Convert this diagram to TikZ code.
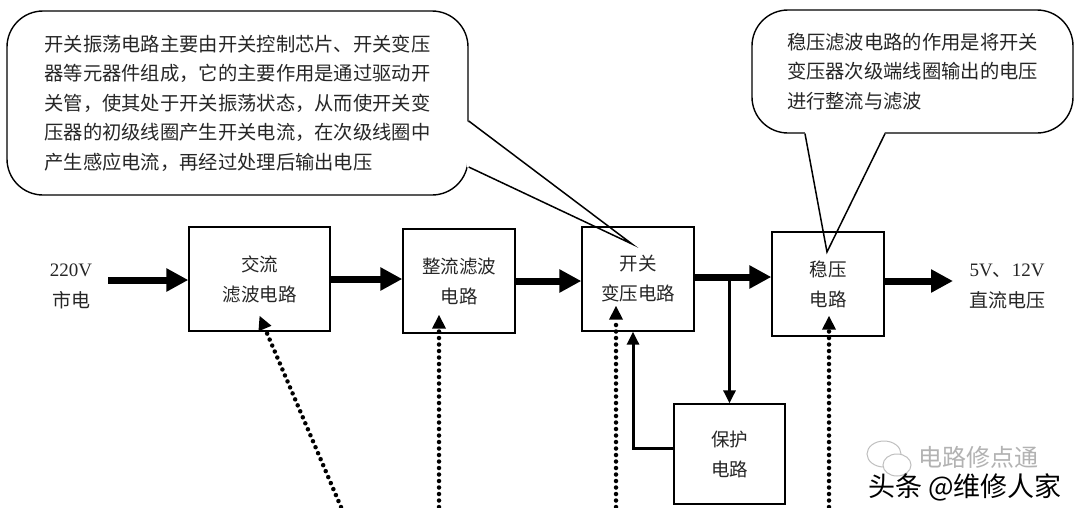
\documentclass[tikz,border=0pt]{standalone}
\usepackage{fontspec}
\setmainfont{Liberation Serif}
\newfontfamily\cjk{Noto Sans CJK SC}
\usepackage{tikz}
\usetikzlibrary{arrows.meta}

\begin{document}
\begin{tikzpicture}[x=1pt,y=-1pt,
  blk/.style={draw,line width=1.3pt,minimum width=112pt,minimum height=104pt,align=center,
    font=\cjk\fontsize{18.5pt}{30pt}\selectfont,text=black!85},
  bubble/.style={draw,line width=1.4pt,rounded corners=36pt,fill=white,align=left,
    font=\cjk\fontsize{19.3pt}{29.5pt}\selectfont,text=black!85},
  lbl/.style={align=center,font=\fontsize{19pt}{31pt}\selectfont,text=black!85},
  bigarrow/.style={line width=7pt,-{Triangle[length=22pt,width=22pt]}},
  thinarrow/.style={line width=3pt,-{Triangle[length=13pt,width=12pt]}},
  dotarrow/.style={line width=4.5pt,line cap=round,dash pattern=on 0pt off 6.5pt,
    -{Triangle[length=14pt,width=13pt]}}]
\useasboundingbox (0,0) rectangle (1080,507);
\fill[white] (0,0) rectangle (1080,507);

% callouts
\node[bubble,minimum width=461pt,minimum height=184pt] (note1) at (237.5,103)
  {开关振荡电路主要由开关控制芯片、开关变压\\
   器等元器件组成，它的主要作用是通过驱动开\\
   关管，使其处于开关振荡状态，从而使开关变\\
   压器的初级线圈产生开关电流，在次级线圈中\\
   产生感应电流，再经过处理后输出电压};
\coordinate (tip1) at (632,244);
\fill[white] ([xshift=-2pt,yshift=-18pt]note1.east) -- (tip1) -- ([xshift=-2pt,yshift=-64pt]note1.east) -- cycle;
\draw[line width=1.5pt] ([yshift=-18pt]note1.east) -- (tip1) -- ([yshift=-64pt]note1.east);

\node[bubble,minimum width=321pt,minimum height=123pt] (note2) at (912.5,71.5)
  {稳压滤波电路的作用是将开关\\
   变压器次级端线圈输出的电压\\
   进行整流与滤波};
\coordinate (tip2) at (827,252);
\fill[white] ([xshift=-107.5pt,yshift=2pt]note2.south) -- (tip2) -- ([xshift=-27.5pt,yshift=2pt]note2.south) -- cycle;
\draw[line width=1.5pt] ([xshift=-107.5pt]note2.south) -- (tip2) -- ([xshift=-27.5pt]note2.south);

% blocks
\node[blk,minimum width=141pt] (acf) at (259.5,279) {交流\\滤波电路};
\node[blk] (rect) at (459,281) {整流滤波\\电路};
\node[blk] (sw) at (638,279) {开关\\变压电路};
\node[blk] (reg) at (828,284) {稳压\\电路};
\node[blk,minimum width=111pt,minimum height=100pt] (prot) at (729.5,454) {保护\\电路};

\node[lbl] (mains) at (71,286.5) {220V\\{\cjk 市电}};
\node[lbl] (dc) at (1007,286.5) {5V{\cjk 、}12V\\{\cjk 直流电压}};

% main path
\coordinate (inp) at (108,280);
\draw[bigarrow] (inp) -- (inp -| acf.west);
\draw[bigarrow] (acf.east) -- (acf.east -| rect.west);
\draw[bigarrow] (rect.east) -- (rect.east -| sw.west);
\coordinate (j) at (729.5,277);
\draw[bigarrow] (sw.east |- j) -- (reg.west |- j);
\coordinate (outp) at (953,281);
\draw[bigarrow] (reg.east |- outp) -- (outp);

% protection loop
\draw[thinarrow] (j) -- (prot.north);
\draw[thinarrow] ([yshift=6pt]prot.west) -| ([xshift=-5pt]sw.south);

% dotted pointers
\coordinate (s1) at (341,507);
\coordinate (s2) at (439,507);
\coordinate (s3) at (616,507);
\coordinate (s4) at (829,507);
\draw[dotarrow] (s1) -- ([yshift=16pt]acf.south);
\draw[dotarrow] (s2) -- ([xshift=-20pt,yshift=19pt]rect.south);
\draw[dotarrow] (s3) -- ([xshift=-22pt,yshift=26pt]sw.south);
\draw[dotarrow] (s4) -- ([xshift=1pt,yshift=21pt]reg.south);

% watermark
\draw[gray!50,line width=1pt] (884,454) ellipse (17pt and 13pt);
\draw[gray!50,line width=1pt,fill=white] (897,465) ellipse (14pt and 11pt);
\node[font=\cjk\fontsize{24pt}{24pt}\selectfont,text=gray!60] (wm1) at (978,457) {电路修点通};
\node[font=\cjk\fontsize{27pt}{27pt}\selectfont] (wm2) at (965,487) {头条 @维修人家};
\end{tikzpicture}
\end{document}
